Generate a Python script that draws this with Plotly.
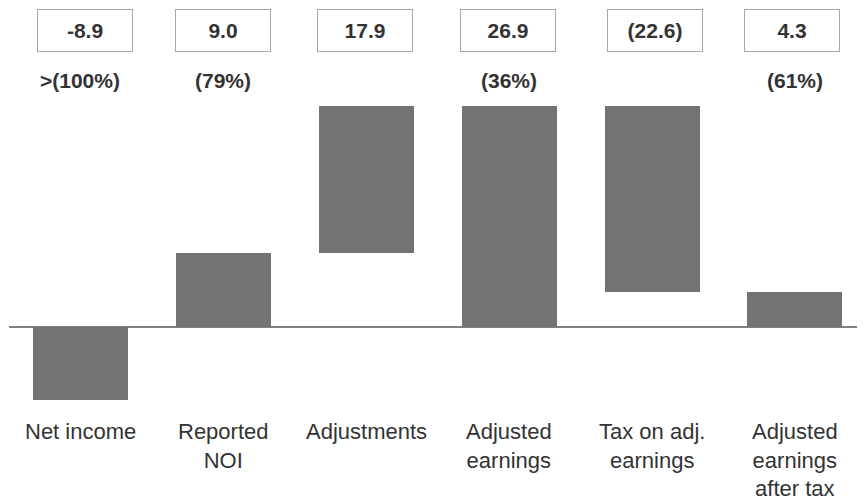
import plotly.graph_objects as go

# Chart data
categories = ['Net income', 'Reported<br>NOI', 'Adjustments', 'Adjusted<br>earnings',
              'Tax on adj.<br>earnings', 'Adjusted<br>earnings<br>after tax']
values = [-8.9, 9.0, 17.9, 26.9, -22.6, 4.3]
bases = [0, 0, 9.0, 0, 26.9, 0]
box_labels = ['-8.9', '9.0', '17.9', '26.9', '(22.6)', '4.3']
pct_labels = ['>(100%)', '(79%)', '', '(36%)', '', '(61%)']

BAR_COLOR = '#737373'
TEXT_COLOR = '#333333'
FONT = 'Arial, Liberation Sans, sans-serif'
box_shift = [5, 0, -1, -1, 3, -3]  # small horizontal nudges of the value boxes

fig = go.Figure()

fig.add_trace(go.Bar(
    x=list(range(len(categories))),
    y=values,
    base=bases,
    width=0.665,
    marker=dict(color=BAR_COLOR, line=dict(width=0)),
    showlegend=False,
    hoverinfo='skip'
))

# Value boxes on top
for i, txt in enumerate(box_labels):
    fig.add_annotation(
        x=i, y=0.955, xref='x', yref='paper',
        text=f'<b>{txt}</b>', showarrow=False,
        width=92, height=39, borderpad=1, xshift=box_shift[i],
        bordercolor='#a6a6a6', borderwidth=1, bgcolor='white',
        font=dict(family=FONT, size=21, color=TEXT_COLOR),
        xanchor='center', yanchor='middle'
    )

# Percentage changes
for i, txt in enumerate(pct_labels):
    if not txt:
        continue
    fig.add_annotation(
        x=i, y=0.852, xref='x', yref='paper',
        text=f'<b>{txt}</b>', showarrow=False,
        font=dict(family=FONT, size=21, color=TEXT_COLOR),
        xanchor='center', yanchor='middle'
    )

# Category labels
for i, txt in enumerate(categories):
    fig.add_annotation(
        x=i, y=0.1687, xref='x', yref='paper',
        text=txt, showarrow=False,
        font=dict(family=FONT, size=22, color=TEXT_COLOR),
        xanchor='center', yanchor='top', align='center'
    )

# page body adds 8px margin, so figure is a bit smaller than the window
fig.update_layout(
    width=857, height=492,
    margin=dict(l=1, r=0, t=0, b=0),
    plot_bgcolor='white', paper_bgcolor='white',
    bargap=0,
)
fig.update_xaxes(range=[-0.5, 5.49], showticklabels=False, showgrid=False,
                 zeroline=False, showline=False, ticks='')
fig.update_yaxes(range=[-21.06, 38.83], showticklabels=False, showgrid=False,
                 zeroline=True, zerolinecolor='#808080', zerolinewidth=1.5,
                 showline=False, ticks='')

fig.write_html('out.html')
